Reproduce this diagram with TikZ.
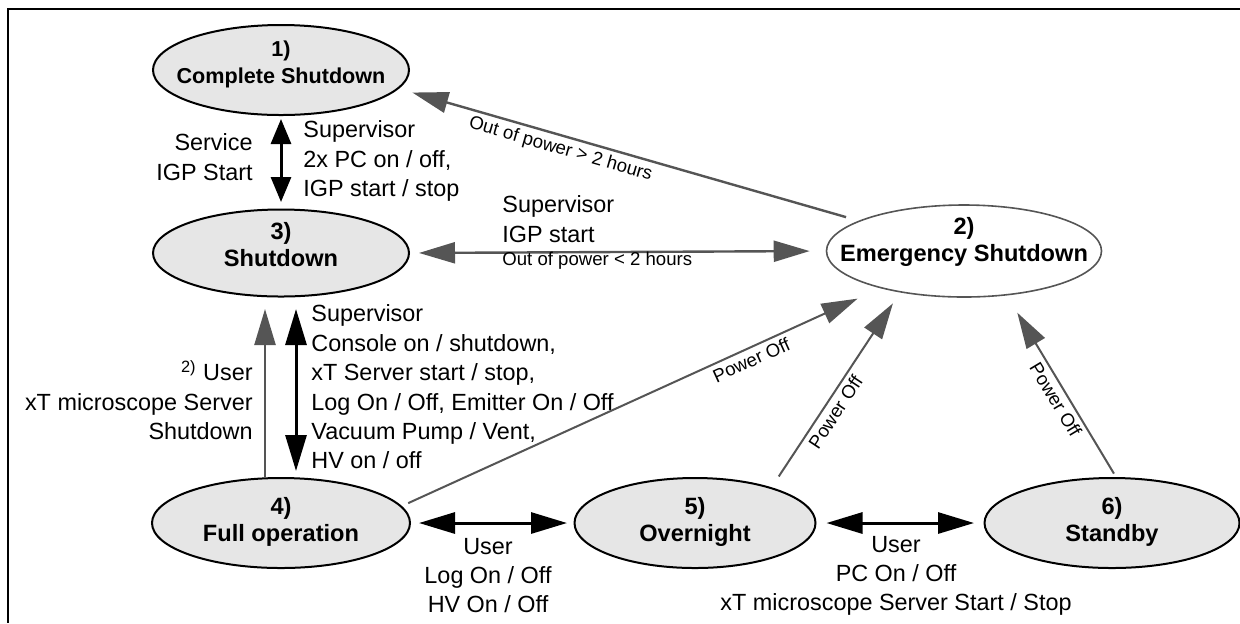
\documentclass[tikz,border=0pt]{standalone}
\usepackage{fontspec}
\setmainfont{Liberation Sans}
\usetikzlibrary{shapes.geometric,arrows.meta}

\definecolor{linegray}{HTML}{555555}
\definecolor{statefill}{HTML}{E6E6E6}

\tikzset{
  bigtip/.tip={Triangle[length=18pt,width=10.5pt]},
  shorttip/.tip={Triangle[length=12.5pt,width=10pt]},
  % negative inner sep: the ellipse size comes from minimum width/height only
  state/.style={ellipse, draw, line width=1pt, fill=statefill, inner xsep=-40pt, inner ysep=-8pt,
    align=center, font=\fontsize{11.8}{13.5}\selectfont\bfseries},
  lbl/.style={inner sep=0pt, font=\fontsize{11.7}{14.7}\selectfont},
  smalllbl/.style={inner sep=2pt, font=\fontsize{9.3}{11}\selectfont},
  blk/.style={line width=1.5pt, bigtip-bigtip},
  gry/.style={draw=linegray, line width=1.2pt, -bigtip},
}

\begin{document}
\begin{tikzpicture}[x=0.5pt, y=-0.5pt]
  \useasboundingbox (0,0) rectangle (1240,623);
  % frame (cut off right and bottom)
  \draw[line width=1pt] (1240,9) -- (8,9) -- (8,623);

  % states
  \node[state, minimum width=128pt, minimum height=45pt, text depth=8.3pt,
    font=\fontsize{10.8}{13.5}\selectfont\bfseries] (S1) at (281,70) {1)\\Complete Shutdown};
  \node[state, minimum width=128pt, minimum height=43.5pt, text depth=8.8pt] (S3) at (281,253) {3)\\Shutdown};
  \node[state, minimum width=137.5pt, minimum height=46pt, text depth=11.3pt, fill=white,
    draw=linegray, line width=0.8pt] (S2) at (964,251) {2)\\Emergency Shutdown};
  \node[state, minimum width=129pt, minimum height=45pt, text depth=3.3pt] (S4) at (281,523) {4)\\Full operation};
  \node[state, minimum width=120.5pt, minimum height=45pt, text depth=3.3pt] (S5) at (695,523) {5)\\Overnight};
  \node[state, minimum width=127.5pt, minimum height=45pt, text depth=3.3pt] (S6) at (1112,523) {6)\\Standby};

  % 1 <-> 3
  \draw[line width=1.5pt, shorttip-shorttip, shorten <=1.5pt, shorten >=3.25pt] (S1.south) -- (S3.north);
  \node[lbl, anchor=east, align=right] at (253,157) {Service\\IGP Start};
  \node[lbl, anchor=west, align=left] at (303,161) {Supervisor\\2x PC on / off,\\IGP start / stop};

  % 3 <-> 2
  \draw[gry, bigtip-bigtip, shorten <=4.5pt, shorten >=8pt] (S3.east) -- (S2.west);
  \node[lbl, anchor=west, align=left] at (502,219) {Supervisor\\IGP start};
  \node[smalllbl, anchor=west, inner sep=0pt] at (502,261) {Out of power < 2 hours};

  % 2 -> 1
  \draw[gry, shorten <=6.5pt, shorten >=7pt] (S2) --
    node[smalllbl, sloped, below, pos=0.64] {Out of power > 2 hours} (S1.-9);

  % 4 -> 3 and 3 <-> 4
  \draw[gry, shorten >=5.75pt] ([xshift=-8pt]S4.north) -- ([xshift=-8pt]S3.south);
  \node[lbl, anchor=east, align=right] at (253,400) {\textsuperscript{2)} User\\xT microscope Server\\Shutdown};
  \draw[blk, shorten <=5.75pt, shorten >=3pt] ([xshift=7.5pt]S3.south) -- ([xshift=7.5pt]S4.north);
  \node[lbl, anchor=west, align=left] at (311,387)
    {Supervisor\\Console on / shutdown,\\xT Server start / stop,\\Log On / Off, Emitter On / Off\\Vacuum Pump / Vent,\\HV on / off};

  % power off
  \draw[gry, line width=1pt, shorten <=3.5pt, shorten >=12.5pt] (S4.8) --
    node[smalllbl, sloped, below, pos=0.72] {Power Off} (S2.204);
  \draw[gry, line width=1pt, shorten <=6.5pt, shorten >=6.5pt] (S5.25) --
    node[smalllbl, sloped, below, pos=0.42] {Power Off} (S2.213);
  \draw[gry, line width=1pt, shorten <=2pt, shorten >=10pt] (S6.85) --
    node[smalllbl, sloped, below, pos=0.46] {Power Off} (S2.-46);

  % bottom row
  \draw[blk, shorten <=4pt, shorten >=3.25pt] (S4.east) -- (S5.west);
  \node[lbl, align=center, font=\fontsize{11.7}{14.5}\selectfont] at (488,576) {User\\Log On / Off\\HV On / Off};
  \draw[blk, shorten <=5pt, shorten >=4.75pt] (S5.east) -- (S6.west);
  \node[lbl, align=center, font=\fontsize{11.7}{14.5}\selectfont] at (896,576)
    {User\\PC On / Off\\xT microscope Server Start / Stop};
\end{tikzpicture}
\end{document}
